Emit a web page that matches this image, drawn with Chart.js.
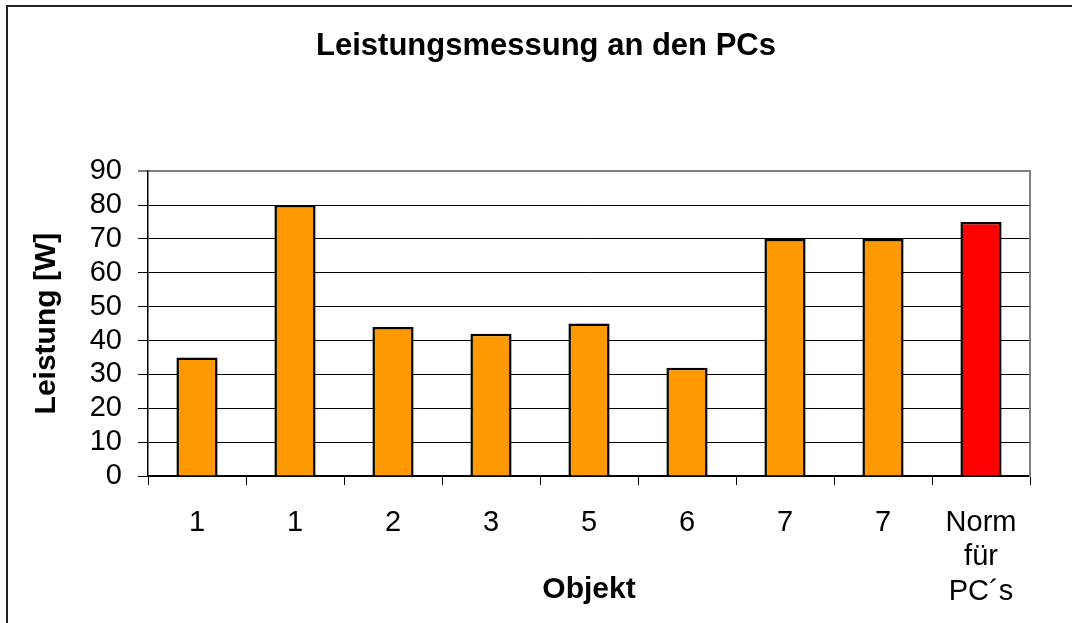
<!DOCTYPE html>
<html lang="de">
<head>
<meta charset="UTF-8">
<title>Leistungsmessung an den PCs</title>
<script src="https://cdn.jsdelivr.net/npm/chart.js"></script>
<style>
    html, body { margin: 0; padding: 0; background: #fff; }
    #wrap { position: relative; width: 1072px; height: 623px; overflow: hidden; }
    #frame {
        position: absolute; left: 6px; top: 5px; width: 1100px; height: 700px;
        border-left: 2px solid #222; border-top: 2px solid #222;
    }
    #chart { position: absolute; left: 0; top: 0; }
</style>
</head>
<body>
<div id="wrap">
    <div id="frame"></div>
    <canvas id="chart" width="1072" height="623"></canvas>
</div>
<script>
    // Werte
    const objekte = ['1', '1', '2', '3', '5', '6', '7', '7', ['Norm', 'für', 'PC´s']];
    const leistung = [35, 80, 44, 42, 45, 32, 70, 70, 75];
    const balkenFarben = ['#FF9900', '#FF9900', '#FF9900', '#FF9900', '#FF9900', '#FF9900', '#FF9900', '#FF9900', '#FF0000'];

    const schrift = '"Liberation Sans", Arial, sans-serif';

    new Chart(document.getElementById('chart'), {
        type: 'bar',
        data: {
            labels: objekte,
            datasets: [{
                data: leistung,
                backgroundColor: balkenFarben,
                borderColor: '#000',
                borderWidth: 2.5,
                barPercentage: 0.42,
                categoryPercentage: 1
            }]
        },
        options: {
            responsive: false,
            animation: false,
            layout: { padding: { left: 20, right: 0, top: 0, bottom: 0 } },
            plugins: {
                legend: { display: false },
                tooltip: { enabled: false },
                title: {
                    display: true,
                    text: 'Leistungsmessung an den PCs',
                    color: '#000',
                    font: { family: schrift, size: 31, weight: 'bold' },
                    padding: { top: 28, bottom: 106 }
                }
            },
            scales: {
                x: {
                    afterFit(scale) { scale.height = 147; },
                    grid: {
                        offset: true,
                        drawOnChartArea: false,
                        color: '#000',
                        tickLength: 9
                    },
                    border: { display: true, color: '#000', width: 1.5 },
                    ticks: {
                        color: '#000',
                        padding: 21,
                        maxRotation: 0,
                        autoSkip: false,
                        font: { family: schrift, size: 29, lineHeight: 1.18 }
                    },
                    title: {
                        display: true,
                        text: 'Objekt',
                        color: '#000',
                        font: { family: schrift, size: 30, weight: 'bold' },
                        padding: { top: 0, bottom: 15 }
                    }
                },
                y: {
                    min: 0,
                    max: 90,
                    afterFit(scale) { scale.width = 128; },
                    grid: {
                        color: ctx => (ctx.tick && ctx.tick.value === 90) ? '#808080' : '#000',
                        lineWidth: ctx => (ctx.tick && ctx.tick.value === 90) ? 2 : 1,
                        tickLength: 10
                    },
                    border: { display: true, color: '#000', width: 1.5 },
                    ticks: {
                        stepSize: 10,
                        autoSkip: false,
                        color: '#000',
                        padding: 16,
                        font: { family: schrift, size: 29 }
                    },
                    title: {
                        display: true,
                        text: 'Leistung [W]',
                        color: '#000',
                        font: { family: schrift, size: 30, weight: 'bold' },
                        padding: { top: 9, bottom: 0 }
                    }
                },
                // rechte Achse nur als grauer Rand der Zeichenfläche
                rechts: {
                    position: 'right',
                    min: 0,
                    max: 90,
                    afterFit(scale) { scale.width = 42; },
                    grid: { drawOnChartArea: false, drawTicks: false },
                    border: { display: true, color: '#808080', width: 2 },
                    ticks: { display: false }
                }
            }
        }
    });
</script>
</body>
</html>
